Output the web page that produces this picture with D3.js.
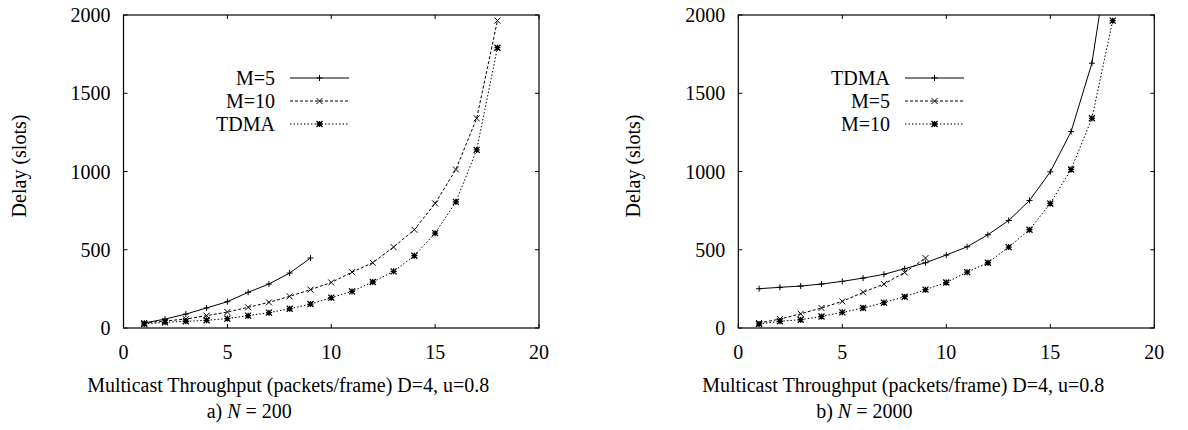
<!DOCTYPE html>
<html>
<head>
<meta charset="utf-8">
<script src="https://cdn.jsdelivr.net/npm/d3@7"></script>
<style>
  body { margin: 0; background: #fff; }
  svg { display: block; }
  text { font-family: "Liberation Serif", "DejaVu Serif", serif; fill: #000; }
</style>
</head>
<body>
<svg id="chart" width="1188" height="430"></svg>
<script>
// ---- data ----
const throughput = [1, 2, 3, 4, 5, 6, 7, 8, 9, 10, 11, 12, 13, 14, 15, 16, 17, 18];
const xTicks = [0, 5, 10, 15, 20];
const yTicks = [0, 500, 1000, 1500, 2000];

// Panel a) N = 200
const aM5   = [32, 57, 89, 128, 168, 228, 281, 351, 447];
const aM10  = [32, 45, 57, 79, 102, 132, 164, 202, 245, 291, 357, 417, 517, 628, 796, 1013, 1340, 1964];
const aTDMA = [26, 36, 43, 49, 60, 79, 98, 123, 153, 194, 234, 294, 362, 462, 606, 806, 1138, 1791];

// Panel b) N = 2000
const bTDMA = [251, 260, 268, 281, 298, 319, 343, 379, 417, 466, 519, 596, 687, 815, 998, 1255, 1692, 2550];
const bM5   = [32, 57, 91, 128, 170, 228, 281, 355, 447];
const bM10  = [26, 43, 53, 74, 100, 128, 162, 200, 245, 291, 357, 417, 517, 628, 796, 1013, 1340, 1964];

const xLabel = "Multicast Throughput (packets/frame) D=4, u=0.8";
const yLabel = "Delay (slots)";

const panels = [
  { left: 123.5, right: 539, capPrefix: "a) ", capNum: "200", legendRight: 275,
    series: [
      { name: "M=5",  values: aM5,   style: 0 },
      { name: "M=10", values: aM10,  style: 1 },
      { name: "TDMA", values: aTDMA, style: 2 }
    ] },
  { left: 738.3, right: 1154.3, capPrefix: "b) ", capNum: "2000", legendRight: 890,
    series: [
      { name: "TDMA", values: bTDMA, style: 0 },
      { name: "M=5",  values: bM5,   style: 1 },
      { name: "M=10", values: bM10,  style: 2 }
    ] }
];

const dashes = [null, "3,2", "1.5,2"];
const plotTop = 15, plotBottom = 328;
const svg = d3.select("#chart");

function marker(g, type, x, y, s) {
  const p = d3.path();
  if (type === 0 || type === 2) {
    p.moveTo(x - s, y); p.lineTo(x + s, y);
    p.moveTo(x, y - s); p.lineTo(x, y + s);
  }
  if (type === 1 || type === 2) {
    p.moveTo(x - s, y - s); p.lineTo(x + s, y + s);
    p.moveTo(x - s, y + s); p.lineTo(x + s, y - s);
  }
  g.append("path").attr("d", p.toString()).attr("stroke", "#000")
    .attr("stroke-width", type === 2 ? 1.3 : 1).attr("fill", "none");
}

panels.forEach((P, pi) => {
  const x = d3.scaleLinear().domain([0, 20]).range([P.left, P.right]);
  const y = d3.scaleLinear().domain([0, 2000]).range([plotBottom, plotTop]);
  const g = svg.append("g");

  const clipId = "clip" + pi;
  svg.append("clipPath").attr("id", clipId).append("rect")
    .attr("x", P.left).attr("y", plotTop).attr("width", P.right - P.left).attr("height", plotBottom - plotTop);

  const tl = 4;
  xTicks.forEach(t => {
    g.append("line").attr("x1", x(t)).attr("x2", x(t)).attr("y1", plotBottom).attr("y2", plotBottom - tl).attr("stroke", "#000");
    g.append("line").attr("x1", x(t)).attr("x2", x(t)).attr("y1", plotTop).attr("y2", plotTop + tl).attr("stroke", "#000");
    g.append("text").attr("x", x(t)).attr("y", 359).attr("text-anchor", "middle").attr("font-size", 20).text(t);
  });
  yTicks.forEach(t => {
    g.append("line").attr("x1", P.left).attr("x2", P.left + tl).attr("y1", y(t)).attr("y2", y(t)).attr("stroke", "#000");
    g.append("line").attr("x1", P.right).attr("x2", P.right - tl).attr("y1", y(t)).attr("y2", y(t)).attr("stroke", "#000");
    g.append("text").attr("x", P.left - 13).attr("y", y(t)).attr("dy", "0.35em").attr("text-anchor", "end").attr("font-size", 20).text(t);
  });

  g.append("rect").attr("x", P.left).attr("y", plotTop).attr("width", P.right - P.left).attr("height", plotBottom - plotTop)
    .attr("fill", "none").attr("stroke", "#000").attr("stroke-width", 1.2);

  const line = d3.line().x((d, i) => x(throughput[i])).y(d => y(d));
  P.series.forEach((s, si) => {
    const sg = g.append("g").attr("clip-path", `url(#${clipId})`);
    sg.append("path").attr("d", line(s.values)).attr("fill", "none").attr("stroke", "#000")
      .attr("stroke-width", 1).attr("stroke-dasharray", dashes[s.style]);
    s.values.forEach((v, i) => {
      if (v <= 2000) marker(sg, s.style, x(throughput[i]), y(v), 3);
    });

    const ly = 78 + si * 23;
    g.append("text").attr("x", P.legendRight).attr("y", ly).attr("dy", "0.35em").attr("text-anchor", "end")
      .attr("font-size", 20).text(s.name);
    const lx1 = P.legendRight + 15, lx2 = P.legendRight + 74;
    g.append("line").attr("x1", lx1).attr("x2", lx2).attr("y1", ly).attr("y2", ly)
      .attr("stroke", "#000").attr("stroke-width", 1).attr("stroke-dasharray", dashes[s.style]);
    marker(g, s.style, (lx1 + lx2) / 2, ly, 3);
  });

  const midX = (P.left + P.right) / 2;
  g.append("text").attr("x", midX - 43).attr("y", 392).attr("text-anchor", "middle").attr("font-size", 20).text(xLabel);
  g.append("text").attr("transform", `translate(${P.left - 105},${166}) rotate(-90)`).attr("text-anchor", "middle")
    .attr("dy", "0.35em").attr("font-size", 20).text(yLabel);

  const cap = g.append("text").attr("x", midX - 82).attr("y", 418).attr("text-anchor", "middle").attr("font-size", 20);
  cap.append("tspan").text(P.capPrefix);
  cap.append("tspan").attr("font-style", "italic").text("N");
  cap.append("tspan").attr("dx", 5).text("=");
  cap.append("tspan").attr("dx", 5).text(P.capNum);
});
</script>
</body>
</html>
